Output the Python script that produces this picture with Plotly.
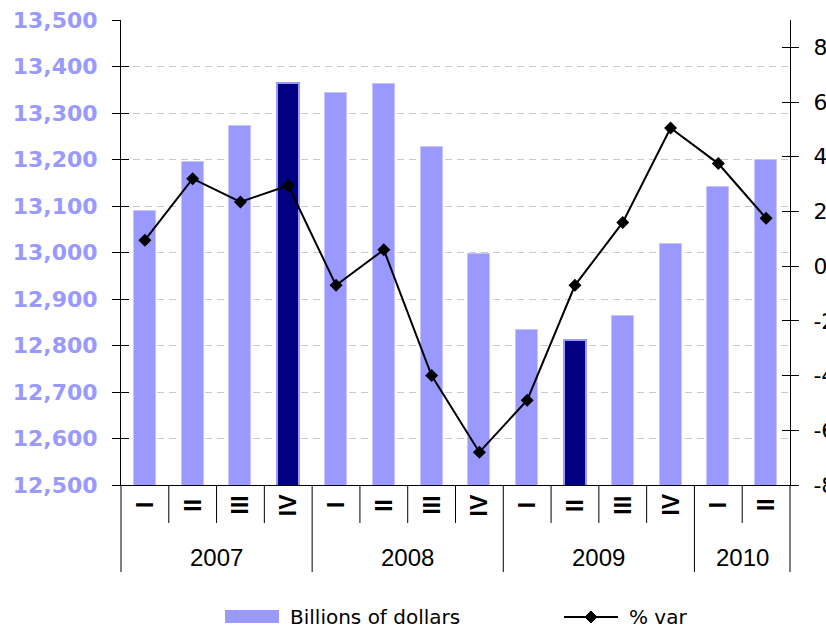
import plotly.graph_objects as go

# Quarterly data, 2007 Q1 - 2010 Q2
years = ["2007", "2008", "2009", "2010"]
quarters_per_year = [4, 4, 4, 2]
quarter_labels = ["I", "II", "III", "IV"]
gdp_billions = [13090, 13195, 13273, 13365, 13343, 13363, 13226,
                12997, 12833, 12812, 12863, 13019, 13140, 13199]
pct_var = [0.95, 3.2, 2.35, 2.95, -0.7, 0.6, -4.0,
           -6.8, -4.9, -0.7, 1.6, 5.05, 3.75, 1.75]
highlight = [False, False, False, True, False, False, False,
             False, False, True, False, False, False, False]
right_ticks = [-8, -6, -4, -2, 0, 2, 4, 6, 8]

W, H = 826, 628
M_L, M_R, M_T, M_B = 121, 36, 20, 143
plot_w = W - M_L - M_R
plot_h = H - M_T - M_B


def py(pixel_y):
    """Page pixel row -> paper y."""
    return (H - M_B - pixel_y) / plot_h


def px(pixel_x):
    """Page pixel column -> paper x."""
    return (pixel_x - M_L) / plot_w


categories = []
for y, n in zip(years, quarters_per_year):
    for q in quarter_labels[:n]:
        categories.append(f"{y} {q}")
n_cat = len(categories)

LIGHT = "#9999FF"
DARK = "#000080"
FONT = "DejaVu Sans"

fig = go.Figure()

fig.add_trace(go.Bar(
    x=categories, y=gdp_billions, width=0.46,
    marker=dict(
        color=[DARK if h else LIGHT for h in highlight],
        line=dict(color=[LIGHT if h else "#C4C4FF" for h in highlight],
                  width=[2 if h else 1 for h in highlight]),
    ),
    name="Billions of dollars", showlegend=False, yaxis="y",
))

fig.add_trace(go.Scatter(
    x=categories, y=pct_var, mode="lines+markers",
    line=dict(color="black", width=2),
    marker=dict(symbol="diamond", size=10, color="black"),
    name="% var", showlegend=False, yaxis="y2",
))

# empty traces that carry the inside halves of the cross ticks
fig.add_trace(go.Scatter(x=[categories[0]], y=[None], yaxis="y3",
                         showlegend=False, hoverinfo="skip"))
fig.add_trace(go.Scatter(x=[categories[0]], y=[None], yaxis="y4",
                         showlegend=False, hoverinfo="skip"))

left_range = [12500, 13500]
right_range = [-8, 9]
right_text = [str(v) for v in right_ticks]

fig.update_layout(
    width=W, height=H,
    margin=dict(l=M_L, r=M_R, t=M_T, b=M_B, pad=0, autoexpand=False),
    paper_bgcolor="white", plot_bgcolor="white",
    font=dict(family=FONT, color="black"),
    bargap=0,
    xaxis=dict(
        type="category", range=[-0.5, n_cat - 0.5], automargin=False,
        showticklabels=False, ticks="", showgrid=False, zeroline=False,
        showline=True, linecolor="black", linewidth=1,
    ),
    yaxis=dict(
        range=left_range, dtick=100, tickformat=",d", automargin=False,
        showgrid=True, gridcolor="#C8C8C8", griddash="7px,5px", gridwidth=1,
        zeroline=False, showline=True, linecolor="black", linewidth=1,
        ticks="outside", ticklen=8, tickcolor="black",
        ticklabelstandoff=10,
        tickfont=dict(family=FONT, size=22, color=LIGHT, weight="bold"),
    ),
    yaxis2=dict(
        range=right_range, tickvals=right_ticks, ticktext=right_text,
        overlaying="y", side="right", automargin=False,
        showgrid=False, zeroline=False, showline=True, linecolor="black",
        ticks="outside", ticklen=8, tickcolor="black", ticklabelstandoff=10,
        tickfont=dict(family=FONT, size=22, color="black"),
    ),
    yaxis3=dict(
        range=left_range, dtick=100, overlaying="y", side="left",
        automargin=False,
        showgrid=False, zeroline=False, showline=False,
        ticks="inside", ticklen=8, tickcolor="black", showticklabels=False,
    ),
    yaxis4=dict(
        range=right_range, tickvals=right_ticks, overlaying="y", side="right",
        automargin=False,
        showgrid=False, zeroline=False, showline=False,
        ticks="inside", ticklen=8, tickcolor="black", showticklabels=False,
    ),
)

shapes = []
annotations = []

# quarter labels (rotated Roman numerals) and dividers below the axis
year_bounds = {0}
pos = 0
for y, n in zip(years, quarters_per_year):
    for i in range(n):
        annotations.append(dict(
            x=categories[pos + i], xref="x", y=py(505), yref="paper",
            text=quarter_labels[i], textangle=-90, showarrow=False,
            font=dict(family="Liberation Sans", size=23, color="black",
                      weight="bold"),
            xanchor="center", yanchor="middle",
        ))
    annotations.append(dict(
        x=pos + (n - 1) / 2, xref="x", y=py(557), yref="paper",
        text=y, showarrow=False,
        font=dict(family="Liberation Sans", size=24, color="black"),
        xanchor="center", yanchor="middle",
    ))
    pos += n
    year_bounds.add(pos)

for k in range(n_cat + 1):
    bottom = 572 if k in year_bounds else 523
    shapes.append(dict(
        type="line", xref="paper", yref="paper",
        x0=k / n_cat, x1=k / n_cat, y0=0, y1=py(bottom),
        line=dict(color="black", width=1),
    ))

# legend
shapes.append(dict(type="rect", xref="paper", yref="paper",
                   x0=px(225), x1=px(279), y0=py(610), y1=py(623),
                   fillcolor=LIGHT, line=dict(width=0)))
annotations.append(dict(x=px(288), y=py(617), xref="paper", yref="paper",
                        text="Billions of dollars", showarrow=False,
                        xanchor="left", yanchor="middle",
                        font=dict(family=FONT, size=20, color="black")))
shapes.append(dict(type="line", xref="paper", yref="paper",
                   x0=px(564), x1=px(618), y0=py(617), y1=py(617),
                   line=dict(color="black", width=2)))
shapes.append(dict(type="path", xref="paper", yref="paper",
                   xsizemode="pixel", ysizemode="pixel",
                   xanchor=px(591), yanchor=py(617),
                   path="M -6 0 L 0 6 L 6 0 L 0 -6 Z",
                   fillcolor="black", line=dict(color="black", width=1)))
annotations.append(dict(x=px(627), y=py(617), xref="paper", yref="paper",
                        text="% var", showarrow=False,
                        xanchor="left", yanchor="middle",
                        font=dict(family=FONT, size=20, color="black")))

fig.update_layout(shapes=shapes, annotations=annotations)

fig.write_html("out.html")
